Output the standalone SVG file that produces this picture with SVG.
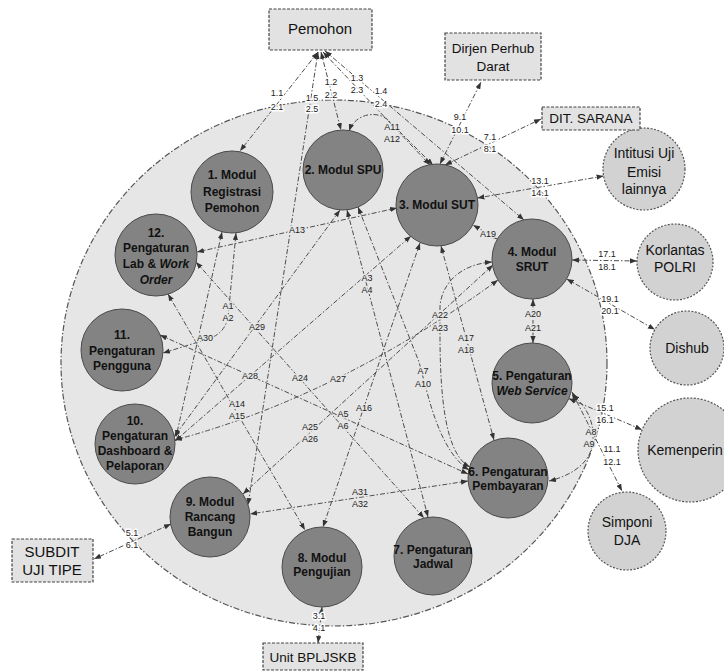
<svg xmlns="http://www.w3.org/2000/svg" width="724" height="672" viewBox="0 0 724 672">
<defs>
<marker id="ah" viewBox="0 0 8 6" refX="8" refY="3" markerWidth="7" markerHeight="5.5" markerUnits="userSpaceOnUse" orient="auto-start-reverse"><path d="M0,0 L8,3 L0,6 z" fill="#333"/></marker>
<style>
.bg{fill:#e6e6e6;stroke:#555;stroke-width:1.2;stroke-dasharray:6 2 1.5 2}
.c{fill:none;stroke:#4d4d4d;stroke-width:1;stroke-dasharray:5 2 1.5 2}
.a{marker-start:url(#ah);marker-end:url(#ah)}
.m circle{fill:#838383;stroke:#4a4a4a;stroke-width:1}
.m text{font-family:"Liberation Sans",Arial,sans-serif;font-size:12px;font-weight:bold;fill:#111;text-anchor:middle}
.x circle{fill:#d2d2d2;stroke:#555;stroke-width:1.2;stroke-dasharray:2 1.5}
.x text{font-family:"Liberation Sans",Arial,sans-serif;font-size:14px;fill:#111;text-anchor:middle}
.b rect{fill:#e2e2e2;stroke:#444;stroke-width:1.2;stroke-dasharray:3 1.5}
.b text{font-family:"Liberation Sans",Arial,sans-serif;font-size:13.5px;fill:#111;text-anchor:middle}
.l{font-family:"Liberation Sans",Arial,sans-serif;font-size:9px;fill:#222;text-anchor:middle;stroke-width:3;paint-order:stroke;stroke-linejoin:round}
.li{stroke:#e6e6e6}
.lo{stroke:#fff}
.it{font-style:italic}
</style>
</defs>
<rect width="724" height="672" fill="#fff"/>
<ellipse id="system" class="bg" cx="334" cy="363" rx="273" ry="263"/>
<g id="connectors">
<path class="c a" d="M318,52 L240,151"/>
<path class="c a" d="M318,52 L248,505"/>
<path class="c a" d="M321,52 L341,130"/>
<path class="c a" d="M323,52 L430,165"/>
<path class="c a" d="M325,51 L524,220"/>
<path class="c a" d="M349,131 C356,112 380,110 390,122 L433,165"/>
<path class="c a" d="M440,164 L481,82"/>
<path class="c a" d="M445,165 L541,119"/>
<path class="c a" d="M603.6,176 L477.4,198"/>
<path class="c a" d="M572,260 L637,261"/>
<path class="c a" d="M566.7,278.9 L654.9,329.6"/>
<path class="c a" d="M568.8,398.6 L642,429.7"/>
<path class="c a" d="M572,392 L622,491"/>
<path class="c a" d="M572,395 C590,408 597,430 591,450 C586,467 566,477 549,481"/>
<path class="c a" d="M533,299 L533,343"/>
<path class="c a" d="M497,239 L473,225"/>
<path class="c a" d="M492,262 C462,264 442,282 440,306 L440,335 C440,400 446,455 470,467"/>
<path class="c a" d="M441,246 L494,440"/>
<path class="c a" d="M358,207 L419,362 L427,392 C437,430 450,458 469,470"/>
<path class="c a" d="M347,210 L428,517"/>
<path class="c a" d="M420,243 L323,527"/>
<path class="c a" d="M493,265 L243,494"/>
<path class="c a" d="M175,440 Q339,396 498,280"/>
<path class="c a" d="M168,294 L305,530"/>
<path class="c a" d="M175,441 L411,236"/>
<path class="c a" d="M196,262 L424,518"/>
<path class="c a" d="M160,335 L468,474"/>
<path class="c a" d="M340,210 L174,437"/>
<path class="c a" d="M397,208 L197,252"/>
<path class="c a" d="M222,232 L176,437"/>
<path class="c a" d="M236,233 L228,318 Q224,334 208,339 L163,353"/>
<path class="c a" d="M468,481 L250,514"/>
<path class="c a" d="M171,524 L94,559"/>
<path class="c a" d="M322,607 L318,643"/>
<g class="l lo">
<text x="277" y="96">1.1</text><text x="277" y="110">2.1</text>
<text x="312" y="101">1.5</text><text x="312" y="112">2.5</text>
<text x="331" y="85">1.2</text><text x="331" y="98">2.2</text>
<text x="357" y="81">1.3</text><text x="357" y="93">2.3</text>
<text x="381" y="94">1.4</text><text x="381" y="107">2.4</text>
<text x="460" y="120">9.1</text><text x="460" y="133">10.1</text>
<text x="490" y="140">7.1</text><text x="490" y="152">8.1</text>
<text x="540" y="184">13.1</text><text x="540" y="196">14.1</text>
<text x="607" y="257">17.1</text><text x="607" y="270">18.1</text>
<text x="610" y="302">19.1</text><text x="610" y="314">20.1</text>
<text x="605" y="411">15.1</text><text x="605" y="423">16.1</text>
<text x="612" y="452">11.1</text><text x="612" y="465">12.1</text>
<text x="132" y="536">5.1</text><text x="132" y="548">6.1</text>
<text x="319" y="619">3.1</text><text x="319" y="631">4.1</text>
</g>
<g class="l li">
<text x="392" y="130">A11</text><text x="392" y="142">A12</text>
<text x="297" y="233">A13</text>
<text x="488" y="237">A19</text>
<text x="533" y="317">A20</text><text x="533" y="331">A21</text>
<text x="367" y="281">A3</text><text x="367" y="293">A4</text>
<text x="440" y="318">A22</text><text x="440" y="331">A23</text>
<text x="466" y="341">A17</text><text x="466" y="353">A18</text>
<text x="228" y="309">A1</text><text x="228" y="321">A2</text>
<text x="205" y="341">A30</text>
<text x="257" y="330">A29</text>
<text x="250" y="379">A28</text>
<text x="300" y="381">A24</text>
<text x="338" y="382">A27</text>
<text x="237" y="407">A14</text><text x="237" y="419">A15</text>
<text x="423" y="374">A7</text><text x="423" y="387">A10</text>
<text x="364" y="411">A16</text>
<text x="343" y="417">A5</text><text x="343" y="429">A6</text>
<text x="310" y="430">A25</text><text x="310" y="442">A26</text>
<text x="360" y="495">A31</text><text x="360" y="507">A32</text>
<text x="591" y="435">A8</text><text x="589" y="447">A9</text>
</g>
</g>
<g id="n1" class="m"><circle cx="232" cy="192" r="41"/><text x="232" y="179">1. Modul</text><text x="232" y="196">Registrasi</text><text x="232" y="212">Pemohon</text></g>
<g id="n2" class="m"><circle cx="343" cy="170" r="40"/><text x="343" y="174">2. Modul SPU</text></g>
<g id="n3" class="m"><circle cx="437" cy="205" r="41"/><text x="437" y="209">3. Modul SUT</text></g>
<g id="n4" class="m"><circle cx="532" cy="259" r="40"/><text x="532" y="256">4. Modul</text><text x="532" y="271">SRUT</text></g>
<g id="n5" class="m"><circle cx="532" cy="383" r="40"/><text x="532" y="380">5. Pengaturan</text><text x="532" y="395" class="it">Web Service</text></g>
<g id="n6" class="m"><circle cx="508" cy="478" r="40"/><text x="508" y="476">6. Pengaturan</text><text x="508" y="490">Pembayaran</text></g>
<g id="n7" class="m"><circle cx="433" cy="556" r="39"/><text x="433" y="554">7. Pengaturan</text><text x="433" y="568">Jadwal</text></g>
<g id="n8" class="m"><circle cx="322" cy="567" r="40"/><text x="322" y="562">8. Modul</text><text x="322" y="576">Pengujian</text></g>
<g id="n9" class="m"><circle cx="210" cy="517" r="40"/><text x="210" y="506">9. Modul</text><text x="210" y="521">Rancang</text><text x="210" y="536">Bangun</text></g>
<g id="n10" class="m"><circle cx="135" cy="444" r="40"/><text x="135" y="425">10.</text><text x="135" y="440">Pengaturan</text><text x="135" y="455">Dashboard &amp;</text><text x="135" y="470">Pelaporan</text></g>
<g id="n11" class="m"><circle cx="122" cy="350" r="41"/><text x="122" y="339">11.</text><text x="122" y="355">Pengaturan</text><text x="122" y="370">Pengguna</text></g>
<g id="n12" class="m"><circle cx="156" cy="255" r="41"/><text x="156" y="237">12.</text><text x="156" y="252">Pengaturan</text><text x="156" y="268">Lab &amp; <tspan class="it">Work</tspan></text><text x="156" y="284" class="it">Order</text></g>
<g id="intitusi" class="x"><circle cx="644" cy="169" r="41"/><text x="644" y="158">Intitusi Uji</text><text x="644" y="177">Emisi</text><text x="644" y="194">lainnya</text></g>
<g id="korlantas" class="x"><circle cx="675" cy="262" r="38"/><text x="675" y="255">Korlantas</text><text x="675" y="272">POLRI</text></g>
<g id="dishub" class="x"><circle cx="687" cy="348" r="37"/><text x="687" y="353">Dishub</text></g>
<g id="kemenperin" class="x"><circle cx="690" cy="450" r="52"/><text x="685" y="455">Kemenperin</text></g>
<g id="simponi" class="x"><circle cx="627" cy="531" r="39"/><text x="627" y="527">Simponi</text><text x="627" y="545">DJA</text></g>
<g id="pemohon" class="b"><rect x="269" y="9" width="103" height="41"/><text x="320" y="34" style="font-size:15px">Pemohon</text></g>
<g id="dirjen" class="b"><rect x="445" y="33" width="96" height="47"/><text x="493" y="53">Dirjen Perhub</text><text x="493" y="71">Darat</text></g>
<g id="ditsarana" class="b"><rect x="542" y="107" width="98" height="23"/><text x="591" y="123">DIT. SARANA</text></g>
<g id="subdit" class="b"><rect x="12" y="539" width="81" height="43"/><text x="52" y="557" style="font-size:15px">SUBDIT</text><text x="52" y="575" style="font-size:15px">UJI TIPE</text></g>
<g id="unit" class="b"><rect x="263" y="643" width="100" height="27"/><text x="313" y="662">Unit BPLJSKB</text></g>
</svg>
